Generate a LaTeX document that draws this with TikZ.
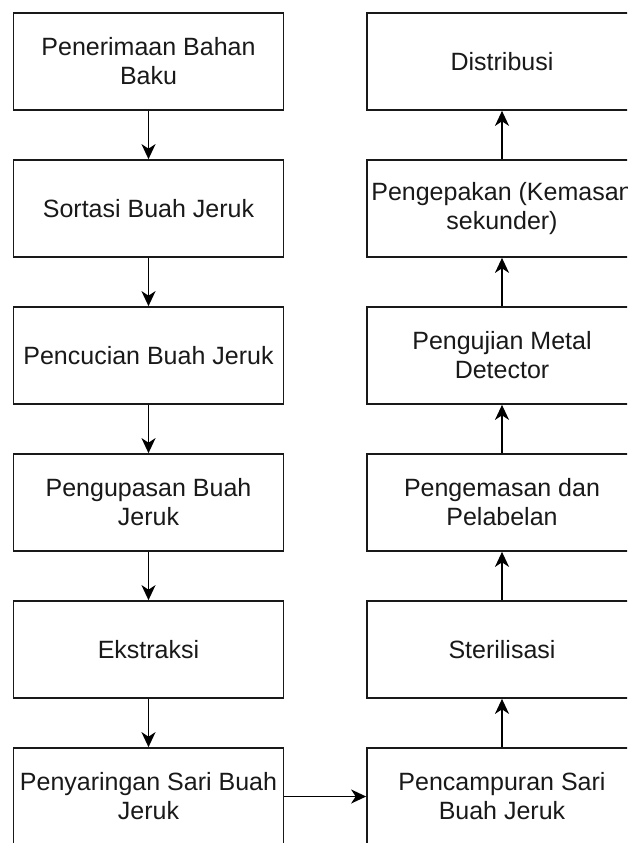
\documentclass[tikz,border=0pt]{standalone}
\usepackage{fontspec}
\setmainfont{Liberation Sans}
\usetikzlibrary{arrows.meta}
\begin{document}
\begin{tikzpicture}[x=1pt,y=-1pt,
  box/.style={draw=black!90, line width=1.7pt, fill=white, minimum width=270pt, minimum height=97pt,
    inner sep=0pt, align=center, font=\fontsize{25}{29}\selectfont, text=black!90},
  flow/.style={line width=1.7pt, draw=black, -{Stealth[length=15pt,width=14pt,inset=4.5pt]}}]
\useasboundingbox (0,0) rectangle (627,843);
\clip (0,0) rectangle (627,843);
% left column
\node[box] (a1) at (148.5,61.5) {Penerimaan Bahan\\Baku};
\node[box] (a2) at (148.5,208.5) {Sortasi Buah Jeruk};
\node[box] (a3) at (148.5,355.5) {Pencucian Buah Jeruk};
\node[box] (a4) at (148.5,502.5) {Pengupasan Buah\\Jeruk};
\node[box] (a5) at (148.5,649.5) {Ekstraksi};
\node[box] (a6) at (148.5,796.5) {Penyaringan Sari Buah\\Jeruk};
% right column
\node[box] (b1) at (502,61.5) {Distribusi};
\node[box] (b2) at (502,208.5) {Pengepakan (Kemasan\\sekunder)};
\node[box] (b3) at (502,355.5) {Pengujian Metal\\Detector};
\node[box] (b4) at (502,502.5) {Pengemasan dan\\Pelabelan};
\node[box] (b5) at (502,649.5) {Sterilisasi};
\node[box] (b6) at (502,796.5) {Pencampuran Sari\\Buah Jeruk};
% connectors
\draw[flow] (a1) -- (a2);
\draw[flow] (a2) -- (a3);
\draw[flow] (a3) -- (a4);
\draw[flow] (a4) -- (a5);
\draw[flow] (a5) -- (a6);
\draw[flow] (a6) -- (b6);
\draw[flow] (b6) -- (b5);
\draw[flow] (b5) -- (b4);
\draw[flow] (b4) -- (b3);
\draw[flow] (b3) -- (b2);
\draw[flow] (b2) -- (b1);
\end{tikzpicture}
\end{document}
